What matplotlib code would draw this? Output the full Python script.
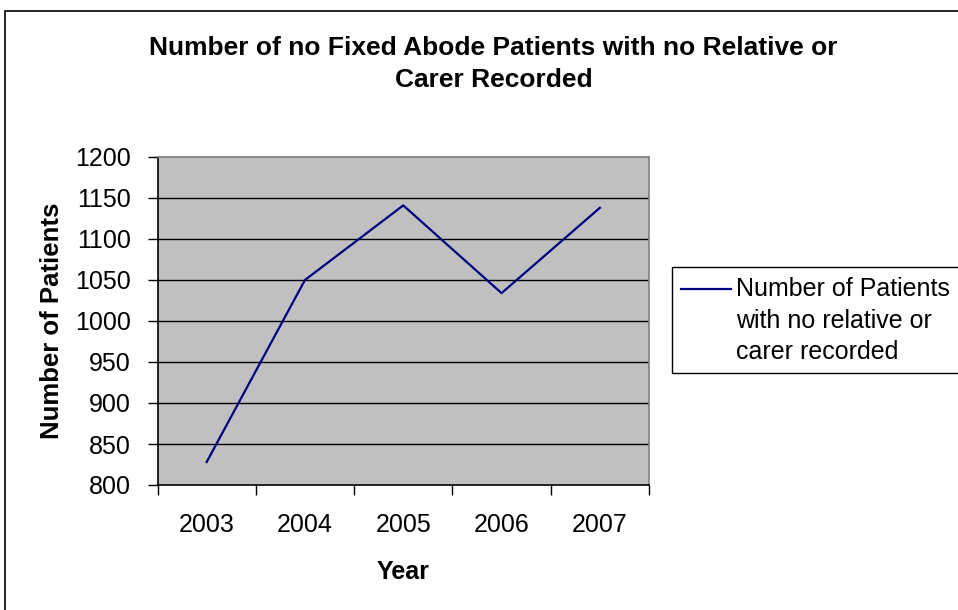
import matplotlib.pyplot as plt
from matplotlib.patches import Rectangle
from matplotlib.lines import Line2D

years = ["2003", "2004", "2005", "2006", "2007"]
patients = [828, 1050, 1141, 1034, 1138]
y_ticks = [800, 850, 900, 950, 1000, 1050, 1100, 1150, 1200]
series_label = ["Number of Patients", "with no relative or", "carer recorded"]

plt.rcParams['font.family'] = ['Liberation Sans', 'DejaVu Sans']

W, H = 958, 610
fig = plt.figure(figsize=(W / 100, H / 100), dpi=100)

# outer chart border (cut off at right/bottom like the original)
fig.patches.append(Rectangle((5 / W, -0.05), 1.2, 1 - 11 / H + 0.05,
                             transform=fig.transFigure, fill=False,
                             edgecolor='black', linewidth=1.2))

ax = fig.add_axes([157.5 / W, 1 - 485 / H, (649 - 157.5) / W, (485 - 157) / H])
ax.set_facecolor('#C0C0C0')

x = list(range(len(years)))
line_color = '#000080'
ax.plot(x, patients, color=line_color, linewidth=1.6)

ax.set_xlim(-0.5, len(years) - 0.5)
ax.set_ylim(800, 1200)
ax.set_yticks(y_ticks)
ax.set_yticklabels([str(v) for v in y_ticks], fontsize=18)
for v in y_ticks[1:-1]:
    ax.axhline(v, color='black', linewidth=1.0, zorder=1)

# category boundaries as major ticks, labels on minor ticks
ax.set_xticks([i - 0.5 for i in range(len(years) + 1)])
ax.set_xticklabels([])
ax.set_xticks(x, minor=True)
ax.set_xticklabels(years, minor=True, fontsize=18)
ax.tick_params(axis='x', which='major', direction='out', length=7, width=1)
ax.tick_params(axis='x', which='minor', length=0, pad=20)
ax.tick_params(axis='y', direction='out', length=7, width=1, pad=12)

for s in ['left', 'bottom']:
    ax.spines[s].set_color('black')
    ax.spines[s].set_linewidth(1.2)
for s in ['top', 'right']:
    ax.spines[s].set_color('#808080')
    ax.spines[s].set_linewidth(1.2)

ax.set_xlabel("Year", fontsize=18, fontweight='bold', labelpad=17)
ax.set_ylabel("Number of Patients", fontsize=18.5, fontweight='bold', labelpad=8)

fig.text(0.5 * (145 + 842) / W, 1 - 64 / H,
         "Number of no Fixed Abode Patients with no Relative or\nCarer Recorded",
         ha='center', va='center', fontsize=19, fontweight='bold', linespacing=1.4)

# legend box, drawn by hand so the key line sits on the first text line
fig.patches.append(Rectangle((672 / W, 1 - 373 / H), 0.5, (373 - 267) / H,
                             transform=fig.transFigure, facecolor='white',
                             edgecolor='black', linewidth=1.0))
fig.lines.append(Line2D([681 / W, 731 / W], [1 - 289 / H, 1 - 289 / H],
                        transform=fig.transFigure, color=line_color, linewidth=1.6))
for i, txt in enumerate(series_label):
    fig.text(736 / W, 1 - (289 + 31.5 * i) / H, txt, fontsize=18,
             ha='left', va='center')

fig.savefig("out.png", dpi=100)
